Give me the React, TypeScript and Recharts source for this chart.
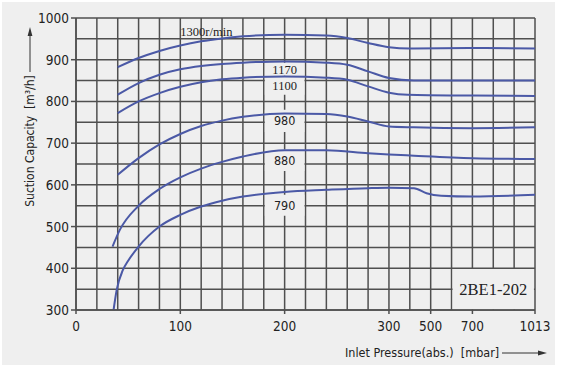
import React from "react";
import { LineChart, Line, XAxis, YAxis, CartesianGrid, ReferenceArea } from "recharts";

// pump curves: [inlet pressure mbar, suction capacity m3/h]
const rpm1300: [number, number][] = [
  [40, 882], [60, 904], [80, 921], [100, 934], [120, 944], [140, 951], [160, 956],
  [200, 960], [240, 958], [260, 952], [280, 940], [300, 930], [400, 927], [700, 928], [1013, 927],
];
const rpm1170: [number, number][] = [
  [40, 816], [60, 844], [80, 864], [100, 877], [120, 885], [140, 890], [160, 893],
  [200, 896], [240, 893], [260, 888], [280, 872], [300, 856], [420, 850], [700, 850], [1013, 850],
];
const rpm1100: [number, number][] = [
  [40, 772], [60, 800], [80, 820], [100, 835], [120, 846], [140, 853], [160, 857],
  [200, 860], [240, 857], [260, 852], [280, 836], [300, 821], [390, 816], [700, 814], [1013, 813],
];
const rpm980: [number, number][] = [
  [40, 624], [60, 664], [80, 697], [100, 722], [120, 741], [140, 754], [160, 763],
  [200, 771], [240, 770], [260, 764], [280, 752], [300, 740], [420, 738], [700, 736], [1013, 738],
];
const rpm880: [number, number][] = [
  [35, 452], [42, 492], [60, 550], [80, 590], [100, 618], [120, 639], [140, 655], [160, 668],
  [200, 683], [240, 683], [280, 676], [300, 673], [420, 670], [700, 664], [1013, 662],
];
const rpm790: [number, number][] = [
  [36, 300], [39, 348], [45, 396], [50, 418], [60, 452], [80, 500], [100, 528], [120, 548],
  [140, 562], [160, 572], [200, 583], [240, 588], [280, 592], [300, 593], [420, 592],
  [480, 580], [550, 574], [700, 572], [1013, 576],
];

const curves = [rpm1300, rpm1170, rpm1100, rpm980, rpm880, rpm790];

const xTickLabels = [0, 100, 200, 300, 500, 700, 1013];
const yTicks = [300, 350, 400, 450, 500, 550, 600, 650, 700, 750, 800, 850, 900, 950, 1000];

// the pressure axis is stretched: 0-300 linear, then compressed steps
function toGrid(p: number) {
  if (p <= 300) return p / 20;
  if (p <= 500) return 15 + (p - 300) / 100;
  if (p <= 700) return 17 + (p - 500) / 100;
  return 19 + ((p - 700) * 3) / 313;
}

const gridTicks = Array.from({ length: 23 }, (_, i) => i);
const tickLabelAt: Record<number, string> = {};
xTickLabels.forEach((p) => (tickLabelAt[toGrid(p)] = String(p)));

const BG = "#efefef";
const GRID = "#4f4f4f";
const CURVE = "#4b59a6";
const narrow = "'Liberation Sans Narrow', 'Arial Narrow', 'DejaVu Sans Condensed', sans-serif";
const serif = "'Liberation Serif', 'Times New Roman', serif";

// speed labels sitting on the 200 mbar gridline
const speedLabels = [
  { text: "1170", x1: 200, x2: 220, lo: 862, hi: 893, font: serif },
  { text: "1100", x1: 200, x2: 220, lo: 816, hi: 862, font: serif },
  { text: "980", x1: 200, x2: 220, lo: 727, hi: 780, font: narrow },
  { text: "880", x1: 200, x2: 220, lo: 633, hi: 685, font: narrow },
  { text: "790", x1: 200, x2: 220, lo: 526, hi: 576, font: narrow },
];

function XTick({ x, y, payload }: any) {
  const label = tickLabelAt[payload.value];
  if (label === undefined) return null;
  return (
    <g>
      <line x1={x} x2={x} y1={y - 8} y2={y - 4} stroke={GRID} strokeWidth={1.5} />
      <text x={x} y={y + 13} textAnchor="middle" fontFamily={narrow} fontSize={13.5} fill="#222">
        {label}
      </text>
    </g>
  );
}

function YTick({ x, y, payload }: any) {
  if (payload.value % 100 !== 0) return null;
  return (
    <g>
      <line x1={x + 3} x2={x + 8} y1={y} y2={y} stroke={GRID} strokeWidth={1.5} />
      <text x={x + 1} y={y + 5} textAnchor="end" fontFamily={narrow} fontSize={13.5} fill="#222">
        {payload.value}
      </text>
    </g>
  );
}

function YTitle() {
  return (
    <g>
      <text
        transform="translate(34,141) rotate(-90)"
        textAnchor="middle"
        fontFamily={narrow}
        fontSize={12}
        fill="#222"
        style={{ whiteSpace: "pre" }}
      >
        {"Suction Capacity  [m³/h]"}
      </text>
      <line x1={30} x2={30} y1={72} y2={34} stroke="#333" strokeWidth={1} />
      <path d="M30,27 L27.6,36 L32.4,36 Z" fill="#333" />
    </g>
  );
}

function XTitle() {
  return (
    <g>
      <text x={345} y={357} fontFamily={narrow} fontSize={12.5} fill="#222" style={{ whiteSpace: "pre" }}>
        {"Inlet Pressure(abs.)  [mbar]"}
      </text>
      <line x1={502} x2={540} y1={353} y2={353} stroke="#333" strokeWidth={1} />
      <path d="M547,353 L538,350.6 L538,355.4 Z" fill="#333" />
    </g>
  );
}

export default function App() {
  return (
    <div style={{ position: "absolute", left: 0, top: 0, width: 563, height: 367, background: "#fff" }}>
      <div style={{ position: "absolute", left: 2, top: 2, width: 553, height: 363, background: BG }} />
      <div style={{ position: "absolute", left: 0, top: 0 }}>
        <LineChart width={563} height={367} margin={{ top: 18, right: 28, bottom: 17, left: 0 }}>
          <CartesianGrid stroke={GRID} strokeWidth={1.5} />
          <XAxis
            type="number"
            dataKey="k"
            domain={[0, 22]}
            ticks={gridTicks}
            interval={0}
            tick={<XTick />}
            tickLine={false}
            tickSize={5}
            tickMargin={3}
            axisLine={{ stroke: GRID, strokeWidth: 1.5 }}
            height={40}
            label={<XTitle />}
          />
          <YAxis
            type="number"
            domain={[300, 1000]}
            ticks={yTicks}
            interval={0}
            width={76}
            tick={<YTick />}
            tickLine={false}
            tickSize={5}
            tickMargin={3}
            axisLine={{ stroke: GRID, strokeWidth: 1.5 }}
            label={<YTitle />}
          />
          {speedLabels.map((l) => (
            <ReferenceArea
              key={l.text}
              x1={toGrid(l.x1) - 0.95}
              x2={toGrid(l.x2) - 0.05}
              y1={l.lo}
              y2={l.hi}
              fill={BG}
              fillOpacity={1}
              stroke="none"
              label={{ value: l.text, position: "center", fill: "#222", fontSize: 12.5, fontFamily: l.font }}
            />
          ))}
          <ReferenceArea
            x1={toGrid(700) - 0.95}
            x2={toGrid(1013) - 0.05}
            y1={302}
            y2={398}
            fill={BG}
            fillOpacity={1}
            stroke="none"
            label={{ value: "2BE1-202", position: "center", fill: "#222", fontSize: 16.5, fontFamily: serif }}
          />
          <ReferenceArea
            x1={5}
            x2={7.5}
            y1={955}
            y2={980}
            fill="none"
            stroke="none"
            label={{ value: "1300r/min", position: "center", fill: "#222", fontSize: 12.5, fontFamily: serif }}
          />
          {curves.map((c, i) => (
            <Line
              key={i}
              data={c.map(([p, v]) => ({ k: toGrid(p), v }))}
              dataKey="v"
              type="monotone"
              stroke={CURVE}
              strokeWidth={2}
              dot={false}
              activeDot={false}
              isAnimationActive={false}
            />
          ))}
        </LineChart>
      </div>
    </div>
  );
}
